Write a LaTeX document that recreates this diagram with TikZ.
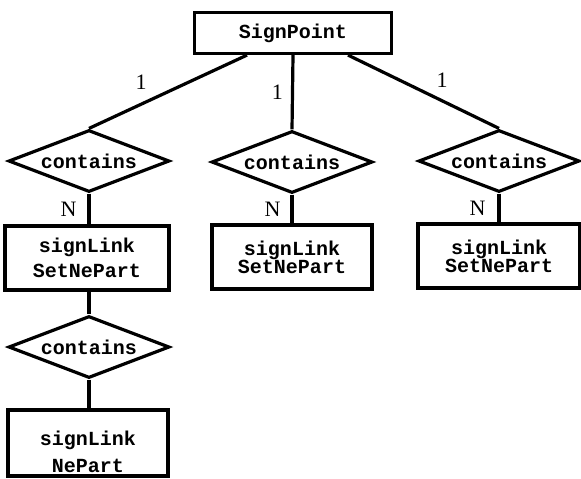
\documentclass[tikz,border=0pt]{standalone}
\usepackage{fontspec}
\setmainfont{Liberation Serif}
\setmonofont{Liberation Mono}
\usepackage{tikz}
\usetikzlibrary{shapes.geometric}
\tikzset{
  entity/.style={draw, rectangle, align=center, inner sep=0pt,
    font=\ttfamily\bfseries\fontsize{10}{12}\selectfont,
    minimum width=81pt, minimum height=32pt},
  relation/.style={draw, diamond, aspect=2.6, inner sep=0pt,
    font=\ttfamily\bfseries\fontsize{10}{12}\selectfont,
    minimum width=80.5pt, minimum height=31pt},
  card/.style={font=\fontsize{11}{11}\selectfont, inner sep=2pt}
}

\begin{document}
\begin{tikzpicture}[x=0.5pt, y=-0.5pt, line width=1.6pt]
                \useasboundingbox (0,0) rectangle (581,478);
                \node[entity, minimum width=98.5pt, minimum height=20.5pt] (sp) at (293,33) {SignPoint};
                \node[relation] (c1) at (89,161) {contains};
                \node[relation] (c2) at (292,162) {contains};
                \node[relation] (c3) at (499,161) {contains};
                \node[entity, minimum width=82pt] (snp1) at (87,258) {signLink\\[0.5pt]SetNePart};
                \node[entity, minimum width=80pt] (snp2) at (292,257) {signLink\\[-3pt]SetNePart};
                \node[entity, minimum width=81pt] (snp3) at (499,256) {signLink\\[-3pt]SetNePart};
                \node[relation] (c4) at (89,347) {contains};
                \node[entity, minimum width=80pt, minimum height=33pt] (np) at (88,443) {\rule{0pt}{16pt}signLink\\[1.5pt]NePart};
                \draw ([xshift=-23pt]sp.south) -- node[card, pos=0.6, anchor=south east, yshift=2pt]{1} (c1.north);
                \draw (sp.south) -- node[card, pos=0.5, anchor=east, xshift=-2pt]{1} (c2.north);
                \draw ([xshift=27.5pt]sp.south) -- node[card, pos=0.55, anchor=south west, yshift=1pt]{1} (c3.north);
                \draw (c1.south) -- node[card, anchor=east, xshift=-3.5pt]{N} (snp1.north -| c1.south);
                \draw (c2.south) -- node[card, anchor=east, xshift=-3pt]{N} (snp2.north);
                \draw (c3.south) -- node[card, anchor=east, xshift=-4pt]{N} (snp3.north);
                \draw (snp1.south -| c4.north) -- (c4.north);
                \draw (c4.south) -- (np.north -| c4.south);
            \end{tikzpicture}
\end{document}
